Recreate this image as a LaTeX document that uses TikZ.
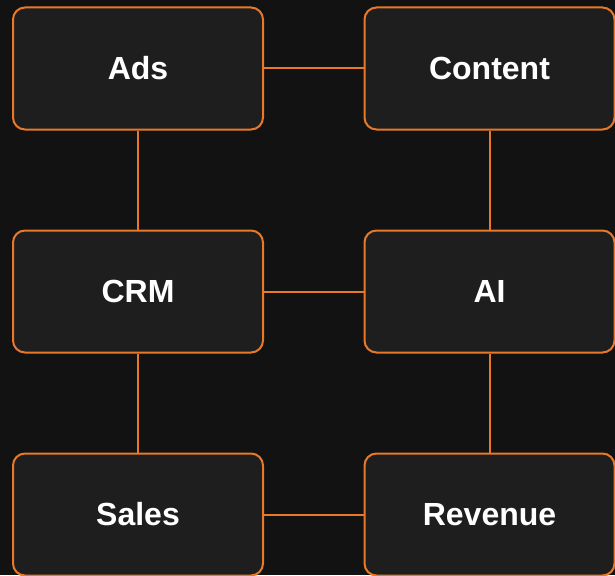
\documentclass[tikz,border=0pt]{standalone}
\usepackage{fontspec}
\setmainfont{Liberation Sans}
\definecolor{bgdark}{HTML}{121212}
\definecolor{boxdark}{HTML}{1E1E1E}
\definecolor{edgeorange}{HTML}{E8792A}

\begin{document}
\begin{tikzpicture}[x = 1pt, y = -1pt,
	block/.style = {draw = edgeorange, fill = boxdark, line width = 2pt, rounded corners = 12pt,
		minimum width = 250pt, minimum height = 122pt, inner sep = 0pt,
		text = white, font = \bfseries\fontsize{32}{38}\selectfont},
	link/.style = {draw = edgeorange, line width = 2pt}]

	\fill [bgdark] (0, 0) rectangle (615, 575);
	\useasboundingbox (0, 0) rectangle (615, 575);

	\node [block] (ads) at (138, 68.5) {Ads};
	\node [block] (content) at (489.5, 68.5) {Content};

	\node [block] (crm) at (138, 291.5) {CRM};
	\node [block] (ai) at (489.5, 291.5) {AI};

	\node [block] (sales) at (138, 514.5) {Sales};
	\node [block] (revenue) at (489.5, 514.5) {Revenue};

	\draw [link] (ads) -- (content);
	\draw [link] (crm) -- (ai);
	\draw [link] (sales) -- (revenue);

	\draw [link] (ads) -- (crm);
	\draw [link] (crm) -- (sales);
	\draw [link] (content) -- (ai);
	\draw [link] (ai) -- (revenue);

\end{tikzpicture}
\end{document}
